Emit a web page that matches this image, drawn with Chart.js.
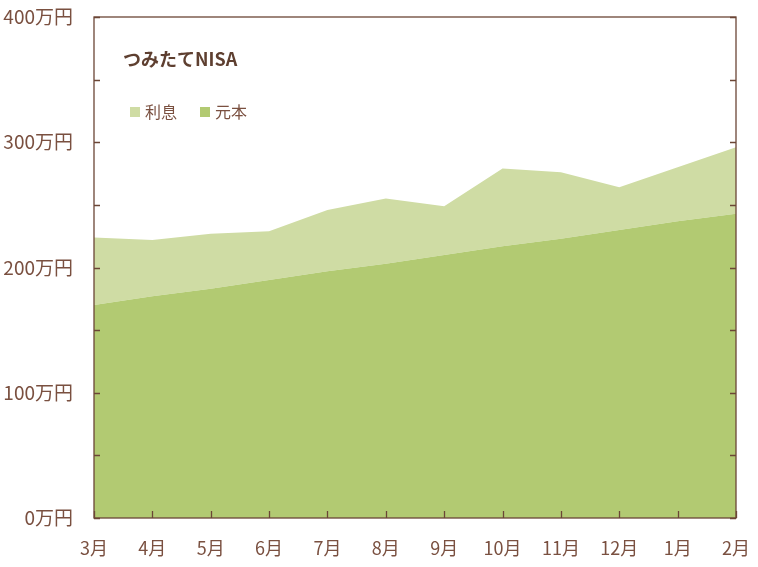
<!DOCTYPE html>
<html>
<head>
<meta charset="utf-8">
<script src="https://cdn.jsdelivr.net/npm/chart.js@4"></script>
<style>
  html, body { margin: 0; padding: 0; background: #fff; }
  #wrap { width: 758px; height: 567px; position: relative; }
</style>
</head>
<body>
<div id="wrap"><canvas id="chart" width="758" height="567"></canvas></div>
<script>
// --- データ ---
const months = ['3月', '4月', '5月', '6月', '7月', '8月', '9月', '10月', '11月', '12月', '1月', '2月'];
const principal = [170, 177, 183, 190, 197, 203, 210, 217, 223, 230, 237, 243]; // 元本 (万円)
const interest = [54, 45, 44, 39, 49, 52, 39, 62, 53, 34, 43, 53];              // 利息 (万円)
const yTickValues = [0, 100, 200, 300, 400];
const chartTitle = 'つみたてNISA';

const brown = '#6b4636';
const labelColor = '#7a5040';
const principalColor = '#b2ca72';
const interestColor = '#cfdca4';
const fontFamily = '"Noto Sans CJK JP", "Noto Sans", sans-serif';

// 軸の枠・内向き目盛・タイトル・凡例を描く
const frameAndLegend = {
    id: 'frameAndLegend',
    afterDatasetsDraw(chart) {
        const { ctx, chartArea: a, scales } = chart;
        ctx.save();
        ctx.strokeStyle = brown;
        ctx.lineWidth = 1.3;
        ctx.strokeRect(a.left, a.top, a.right - a.left, a.bottom - a.top);

        // y目盛 (50刻み、左右とも内向き)
        for (let v = 0; v <= 400; v += 50) {
            const y = Math.round(scales.y.getPixelForValue(v)) + 0.5;
            ctx.beginPath();
            ctx.moveTo(a.left, y); ctx.lineTo(a.left + 6, y);
            ctx.moveTo(a.right, y); ctx.lineTo(a.right - 6, y);
            ctx.stroke();
        }
        // x目盛 (下、内向き)
        months.forEach((m, i) => {
            const x = Math.round(scales.x.getPixelForValue(i)) + 0.5;
            ctx.beginPath();
            ctx.moveTo(x, a.bottom); ctx.lineTo(x, a.bottom - 7);
            ctx.stroke();
        });

        // タイトル
        ctx.fillStyle = '#5e3f30';
        ctx.font = 'bold 18px ' + fontFamily;
        ctx.textBaseline = 'middle';
        ctx.fillText(chartTitle, a.left + 29, 59);

        // 凡例 (利息, 元本)
        const items = [chart.data.datasets[1], chart.data.datasets[0]];
        let x = a.left + 36;
        ctx.font = '16px ' + fontFamily;
        items.forEach(ds => {
            ctx.fillStyle = ds.backgroundColor;
            ctx.fillRect(x, 107, 10, 10);
            ctx.fillStyle = labelColor;
            ctx.fillText(ds.label, x + 15, 112);
            x += 70;
        });
        ctx.restore();
    }
};

new Chart(document.getElementById('chart').getContext('2d'), {
    type: 'line',
    data: {
        labels: months,
        datasets: [
            {
                label: '元本',
                data: principal,
                backgroundColor: principalColor,
                borderWidth: 0,
                pointRadius: 0,
                tension: 0,
                fill: 'origin'
            },
            {
                label: '利息',
                data: interest,
                backgroundColor: interestColor,
                borderWidth: 0,
                pointRadius: 0,
                tension: 0,
                fill: '-1'
            }
        ]
    },
    options: {
        responsive: false,
        animation: false,
        layout: { padding: { top: 17, right: 22, left: 0, bottom: 0 } },
        plugins: {
            legend: { display: false },
            tooltip: { enabled: false }
        },
        scales: {
            x: {
                offset: false,
                grid: { display: false, drawTicks: false },
                border: { display: false },
                ticks: {
                    color: labelColor,
                    font: { family: fontFamily, size: 18 },
                    padding: 19,
                    maxRotation: 0,
                    autoSkip: false
                },
                afterFit(scale) {
                    scale.height = 49;
                    scale.paddingLeft = 0;
                    scale.paddingRight = 0;
                }
            },
            y: {
                stacked: true,
                min: 0,
                max: 400,
                grid: { display: false, drawTicks: false },
                border: { display: false },
                afterBuildTicks(scale) {
                    scale.ticks = yTickValues.map(v => ({ value: v }));
                },
                ticks: {
                    color: labelColor,
                    font: { family: fontFamily, size: 19 },
                    padding: 21,
                    callback: v => v + '万円'
                },
                afterFit(scale) {
                    scale.width = 94;
                    scale.paddingTop = 0;
                    scale.paddingBottom = 0;
                }
            }
        }
    },
    plugins: [frameAndLegend]
});
</script>
</body>
</html>
